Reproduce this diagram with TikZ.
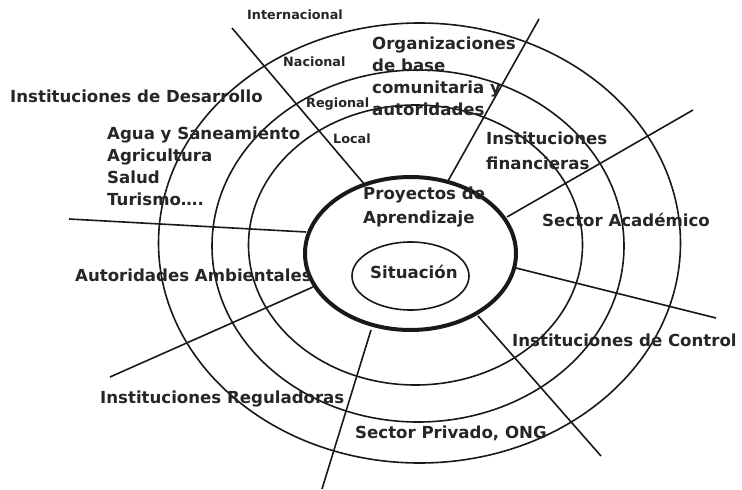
\documentclass[tikz,border=0pt]{standalone}
\usepackage{fontspec}
\setmainfont{DejaVu Sans}
\usetikzlibrary{shapes.geometric}
\begin{document}
\begin{tikzpicture}[x=1pt,y=-1pt,
  spoke/.style={draw=black!90,line width=1.6pt},
  biglabel/.style={font=\bfseries\fontsize{16.6}{22}\selectfont,text=black!85,inner sep=0pt,anchor=west,align=left},
  smalllabel/.style={font=\bfseries\fontsize{12.8}{14}\selectfont,text=black!85,inner sep=0pt,anchor=west}]
\useasboundingbox (0,0) rectangle (742,490);
\fill[white] (0,0) rectangle (742,490);

% concentric levels
\draw[spoke] (419.5,243) ellipse [x radius=261, y radius=220];
\draw[spoke] (418,246) ellipse [x radius=206, y radius=176];
\draw[spoke] (415.5,245) ellipse [x radius=167, y radius=140];

% core: learning projects and situation
\node[draw=black!90,line width=4pt,ellipse,inner sep=0pt,minimum width=211pt,minimum height=153pt] (core) at (410.5,253.5) {};
\node[draw=black!90,line width=1.6pt,ellipse,inner sep=0pt,minimum width=117pt,minimum height=68pt] (sit) at (410.5,276) {};

% spoke end points
\coordinate (o1) at (232,28);   \coordinate (i1) at (365,185);
\coordinate (o2) at (539,19);   \coordinate (i2) at (448,181);
\coordinate (o3) at (693,110);  \coordinate (i3) at (507,217);
\coordinate (o4) at (69,219);   \coordinate (i4) at (306,232);
\coordinate (o5) at (110,377);  \coordinate (i5) at (313,287);
\coordinate (o6) at (322,489);  \coordinate (i6) at (371,330);
\coordinate (o7) at (601,456);  \coordinate (i7) at (478,316);
\coordinate (o8) at (716,318);  \coordinate (i8) at (516,268);
\foreach \k in {1,...,8} \draw[spoke] (o\k) -- (i\k);

% level names
\node[smalllabel] (lint) at (247,15) {Internacional};
\node[smalllabel] (lnac) at (283,62) {Nacional};
\node[smalllabel] (lreg) at (306,104) {Regional};
\node[smalllabel] (lloc) at (333,139) {Local};

% actors
\node[biglabel] (desa) at (10,96) {Instituciones de Desarrollo};
\node[biglabel] (sect) at (107,166.5) {Agua y Saneamiento\\Agricultura\\Salud\\Turismo….};
\node[biglabel] (orgs) at (372,76) {Organizaciones\\de base\\comunitaria y\\autoridades};
\node[biglabel,font=\bfseries\fontsize{16.6}{25}\selectfont] (fina) at (486,150.5) {Instituciones\\financieras};
\node[biglabel] (acad) at (542,220) {Sector Académico};
\node[biglabel] (amb) at (75,275) {Autoridades Ambientales};
\node[biglabel] (ctrl) at (512,340) {Instituciones de Control};
\node[biglabel] (regu) at (100,399) {Instituciones Reguladoras};
\node[biglabel] (priv) at (355,433) {Sector Privado, ONG};
\node[biglabel,font=\bfseries\fontsize{16.6}{24}\selectfont] (proy) at (363,207) {Proyectos de\\Aprendizaje};
\node[biglabel] (situ) at (370,272) {Situación};
\end{tikzpicture}
\end{document}
